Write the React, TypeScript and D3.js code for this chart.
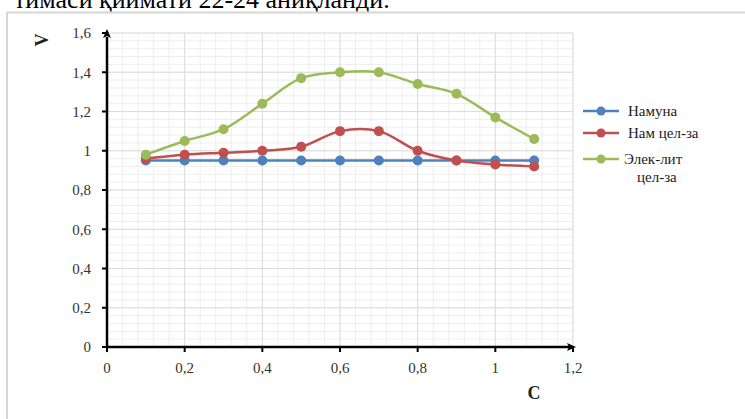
import React from "react";
import * as d3 from "d3";

const xValues = [0.1, 0.2, 0.3, 0.4, 0.5, 0.6, 0.7, 0.8, 0.9, 1.0, 1.1];
const namuna = [0.95, 0.95, 0.95, 0.95, 0.95, 0.95, 0.95, 0.95, 0.95, 0.95, 0.95];
const namCelza = [0.96, 0.98, 0.99, 1.0, 1.02, 1.1, 1.1, 1.0, 0.95, 0.93, 0.92];
const elekCelza = [0.98, 1.05, 1.11, 1.24, 1.37, 1.4, 1.4, 1.34, 1.29, 1.17, 1.06];
const seriesNames = ["Намуна", "Нам цел-за", "Элек-лит цел-за"];
const seriesColors = ["#4f81bd", "#c0504d", "#9bbb59"];
const xTicks = [0, 0.2, 0.4, 0.6, 0.8, 1, 1.2];
const yTicks = [0, 0.2, 0.4, 0.6, 0.8, 1, 1.2, 1.4, 1.6];
const topText = "тимаси қиймати 22-24 аниқланди.";

const fmt = (v: number) => String(+v.toFixed(1)).replace(".", ",");

export default function App() {
  const W = 745, H = 419;
  const x = d3.scaleLinear().domain([0, 1.2]).range([107, 573]);
  const y = d3.scaleLinear().domain([0, 1.6]).range([347, 33]);
  const series = [namuna, namCelza, elekCelza];
  const line = d3
    .line<[number, number]>()
    .x((d) => x(d[0]))
    .y((d) => y(d[1]))
    .curve(d3.curveCatmullRom.alpha(0.5));

  const minorX = d3.range(0, 1.2001, 0.04);
  const minorY = d3.range(0, 1.6001, 0.04);
  const font = '"Liberation Serif", "DejaVu Serif", serif';

  const legendY = [111, 133, 159];

  return (
    <svg
      width={W}
      height={H}
      style={{ position: "absolute", left: 0, top: 0, background: "#fff", fontFamily: font }}
    >
      <text x={14} y={8} style={{ fontFamily: font }} fontSize={26} fill="#000">
        {topText}
      </text>
      {/* frame */}
      <line x1={7} y1={12.5} x2={W} y2={12.5} stroke="#d6d6d6" strokeWidth={2} />
      <line x1={7} y1={12} x2={7} y2={H} stroke="#d6d6d6" strokeWidth={2} />

      {/* grid */}
      <g>
        {minorX.map((v, i) => (
          <line key={"mx" + i} x1={x(v)} x2={x(v)} y1={y(1.6)} y2={y(0)} stroke="#eeeeee" strokeWidth={1} />
        ))}
        {minorY.map((v, i) => (
          <line key={"my" + i} x1={x(0)} x2={x(1.2)} y1={y(v)} y2={y(v)} stroke="#eeeeee" strokeWidth={1} />
        ))}
        {xTicks.map((v, i) => (
          <line key={"Mx" + i} x1={x(v)} x2={x(v)} y1={y(1.6)} y2={y(0)} stroke="#dcdcdc" strokeWidth={1} />
        ))}
        {yTicks.map((v, i) => (
          <line key={"My" + i} x1={x(0)} x2={x(1.2)} y1={y(v)} y2={y(v)} stroke="#dcdcdc" strokeWidth={1} />
        ))}
      </g>

      {/* series */}
      {series.map((s, si) => {
        const pts: [number, number][] = xValues.map((xv, i) => [xv, s[i]]);
        return (
          <g key={"s" + si}>
            <path d={line(pts) || ""} fill="none" stroke={seriesColors[si]} strokeWidth={2.5} />
            {pts.map((p, i) => (
              <circle key={i} cx={x(p[0])} cy={y(p[1])} r={5} fill={seriesColors[si]} />
            ))}
          </g>
        );
      })}

      {/* axes */}
      <line x1={x(0)} y1={y(0)} x2={x(0)} y2={y(1.6) + 4} stroke="#000" strokeWidth={2.5} />
      <path d={`M${x(0)},${y(1.6) - 4} l-4,9 l4,-2 l4,2 z`} fill="#000" />
      <line x1={x(0) - 1} y1={y(0)} x2={x(1.2) - 4} y2={y(0)} stroke="#000" strokeWidth={2.5} />
      <path d={`M${x(1.2) + 3},${y(0)} l-9,-4 l2,4 l-2,4 z`} fill="#000" />

      {yTicks.map((v, i) => (
        <g key={"yt" + i}>
          <line x1={x(0) - 5} x2={x(0)} y1={y(v)} y2={y(v)} stroke="#000" strokeWidth={2} />
          <text x={x(0) - 16} y={y(v)} dy="0.35em" textAnchor="end" style={{ fontFamily: font }} fontSize={15} fill="#333">
            {fmt(v)}
          </text>
        </g>
      ))}
      {xTicks.map((v, i) => (
        <g key={"xt" + i}>
          <line x1={x(v)} x2={x(v)} y1={y(0)} y2={y(0) + 5} stroke="#000" strokeWidth={2} />
          <text x={x(v)} y={y(0) + 21} dy="0.35em" textAnchor="middle" style={{ fontFamily: font }} fontSize={15} fill="#333">
            {fmt(v)}
          </text>
        </g>
      ))}

      <text
        transform="translate(42,40) rotate(-90)"
        textAnchor="middle"
        dy="0.35em"
        style={{ fontFamily: font }}
        fontSize={18}
        fontWeight="bold"
        fill="#222"
      >
        V
      </text>
      <text x={534} y={393} textAnchor="middle" dy="0.35em" style={{ fontFamily: font }} fontSize={18} fontWeight="bold" fill="#222">
        C
      </text>

      {/* legend */}
      {seriesNames.map((name, i) => (
        <g key={"lg" + i}>
          <line x1={583} x2={619} y1={legendY[i]} y2={legendY[i]} stroke={seriesColors[i]} strokeWidth={2.5} />
          <circle cx={601} cy={legendY[i]} r={4.5} fill={seriesColors[i]} />
          {i < 2 ? (
            <text x={628} y={legendY[i]} dy="0.35em" style={{ fontFamily: font }} fontSize={15} fill="#222">
              {name}
            </text>
          ) : (
            <text x={624} y={legendY[i]} dy="0.35em" style={{ fontFamily: font }} fontSize={15} fill="#222">
              <tspan x={624}>{name.split(" ")[0]}</tspan>
              <tspan x={637} dy={18}>{name.split(" ")[1]}</tspan>
            </text>
          )}
        </g>
      ))}
    </svg>
  );
}
